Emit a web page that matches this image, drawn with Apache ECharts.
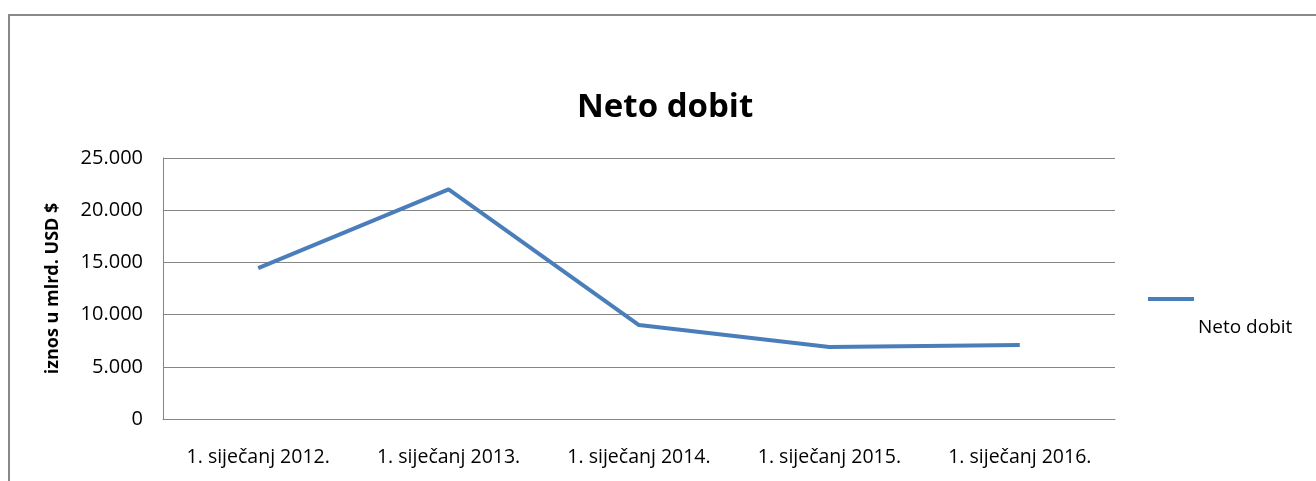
<!DOCTYPE html>
<html>
<head>
<meta charset="utf-8">
<script src="https://cdn.jsdelivr.net/npm/echarts@6/dist/echarts.min.js"></script>
<style>
  html, body { margin: 0; padding: 0; background: #fff; }
  #chart { width: 1316px; height: 481px; }
</style>
</head>
<body>
<div id="chart"></div>
<script>
const categories = ["1. siječanj 2012.", "1. siječanj 2013.", "1. siječanj 2014.", "1. siječanj 2015.", "1. siječanj 2016."];
const netoDobit = [14450, 22000, 9000, 6900, 7100];
const seriesName = "Neto dobit";

const FONT = "Open Sans";
const LINE_COLOR = "#4a7ebb";
const GRID_COLOR = "#868686";

function formatThousands(v) {
  if (v === 0) return "0";
  return String(v).replace(/\B(?=(\d{3})+(?!\d))/g, ".");
}

const chart = echarts.init(document.getElementById("chart"));

chart.setOption({
  backgroundColor: "#ffffff",
  animation: false,
  textStyle: { fontFamily: FONT },
  title: {
    text: "Neto dobit",
    left: 572,
    top: 86,
    textStyle: { fontFamily: FONT, fontSize: 33, fontWeight: "bold", color: "#000" }
  },
  graphic: [{
    type: "rect",
    shape: { x: 9, y: 15, width: 1400, height: 600 },
    style: { fill: "none", stroke: "#898989", lineWidth: 2 },
    silent: true
  }],
  legend: [{
    data: [seriesName],
    left: 1143,
    top: 292,
    itemWidth: 46,
    itemHeight: 4,
    icon: "rect",
    formatter: () => "",
    itemStyle: { color: LINE_COLOR },
    lineStyle: { width: 0 }
  }, {
    data: [seriesName],
    left: 1188,
    top: 313,
    itemWidth: 0,
    itemHeight: 0,
    icon: "none",
    itemGap: 0,
    textStyle: { fontFamily: FONT, fontSize: 19, color: "#000", padding: 0 }
  }],
  grid: { left: 163, top: 158, width: 952, height: 261, containLabel: false },
  xAxis: {
    type: "category",
    data: categories,
    boundaryGap: true,
    axisLine: { show: true, lineStyle: { color: GRID_COLOR, width: 1 } },
    axisTick: { show: false },
    axisLabel: { color: "#000", fontSize: 19.5, fontFamily: FONT, margin: 28 }
  },
  yAxis: {
    type: "value",
    min: 0,
    max: 25000,
    interval: 5000,
    name: "iznos u mlrd. USD $",
    nameLocation: "middle",
    nameGap: 101,
    nameRotate: 90,
    nameTextStyle: { color: "#000", fontSize: 18, fontWeight: "bold", fontFamily: FONT },
    axisLine: { show: true, lineStyle: { color: GRID_COLOR, width: 1 } },
    axisTick: { show: false },
    axisLabel: { color: "#000", fontSize: 20, fontFamily: FONT, margin: 20, formatter: formatThousands },
    splitLine: { show: true, lineStyle: { color: GRID_COLOR, width: 1 } }
  },
  series: [{
    name: seriesName,
    type: "line",
    data: netoDobit,
    symbol: "none",
    lineStyle: { color: LINE_COLOR, width: 4 },
    itemStyle: { color: LINE_COLOR }
  }]
});
</script>
</body>
</html>
